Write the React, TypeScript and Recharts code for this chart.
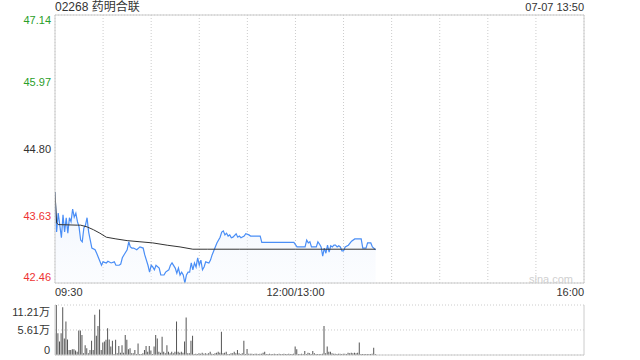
import React from "react";
import {
  ComposedChart,
  BarChart,
  Bar,
  Line,
  Area,
  XAxis,
  YAxis,
  CartesianGrid,
  ReferenceLine,
} from "recharts";

const stockTitle = "02268 药明合联";
const stampText = "07-07 13:50";
const prevClose = 44.8;

const priceTicks = [42.46, 43.63, 44.8, 45.97, 47.14];
const pctTicks = [-5.23, -2.61, 0, 2.61, 5.23];
const timeTicks = [0, 30, 60, 90, 120, 150, 180, 210, 240, 270, 300, 330];
const timeLabels: Record<number, string> = { 0: "09:30", 150: "12:00/13:00", 330: "16:00" };
const volTicks = [0, 5.61, 11.21];

// minute index (0 = 09:30, 150 = 13:00) and last price
const priceMinutes = [
  0, 1, 2, 3, 4, 5, 6, 7, 8, 9, 10, 11, 12, 13, 14, 15, 16, 17, 18, 19, 20, 21, 22, 23, 25, 26, 27, 29, 30,
  32, 33, 35, 37, 38, 40, 41, 42, 43, 45, 46, 47, 48, 49, 51, 53, 55, 56, 58, 59, 60, 61, 62, 63, 65, 66, 68,
  69, 71, 72, 73, 75, 76, 77, 78, 79, 80, 81, 82, 83, 84, 85, 86, 87, 88, 89, 90, 91, 92, 93, 94, 96, 97, 98,
  100, 101, 103, 104, 105, 106, 107, 108, 109, 110, 111, 113, 114, 115, 116, 118, 119, 121, 122, 128, 129,
  149, 151, 156, 157, 158, 159, 160, 163, 164, 165, 166, 167, 168, 169, 170, 171, 172, 173, 174, 175, 176,
  177, 178, 179, 180, 181, 183, 185, 187, 191, 192, 194, 195, 197, 198, 200,
];
const prices = [
  44.05, 43.35, 43.68, 43.47, 43.25, 43.65, 43.35, 43.6, 43.33, 43.6, 43.53, 43.75, 43.61, 43.68, 43.53,
  43.44, 43.21, 43.18, 43.42, 43.47, 43.6, 43.35, 43.21, 43.07, 43.04, 42.98, 42.91, 42.77, 42.83, 42.81,
  42.84, 42.81, 42.83, 42.77, 42.77, 42.79, 42.9, 42.95, 43.04, 43.18, 43.09, 43.07, 43.07, 43.04, 43.09,
  43.07, 42.95, 42.77, 42.65, 42.77, 42.74, 42.69, 42.77, 42.72, 42.6, 42.6, 42.65, 42.69, 42.77, 42.81,
  42.72, 42.63, 42.72, 42.6, 42.65, 42.6, 42.46, 42.6, 42.65, 42.65, 42.81, 42.69, 42.81, 42.74, 42.9,
  42.77, 42.86, 42.69, 42.74, 42.83, 42.81, 42.86, 42.95, 43.09, 43.16, 43.26, 43.35, 43.37, 43.3, 43.33,
  43.28, 43.3, 43.25, 43.26, 43.32, 43.26, 43.28, 43.25, 43.28, 43.32, 43.3, 43.28, 43.28, 43.17, 43.17,
  43.09, 43.09, 43.21, 43.16, 43.18, 43.09, 43.09, 43.18, 43.14, 43.09, 42.93, 43.07, 42.98, 43.12, 43.0,
  43.11, 43.09, 43.12, 43.12, 43.09, 43.11, 43.09, 43.02, 43.02, 43.09, 43.12, 43.19, 43.23, 43.23, 43.07,
  43.07, 43.16, 43.16, 43.09, 43.04,
];

// average price line
const avgMinutes = [0, 1, 2, 14, 16, 20, 24, 28, 32, 38, 45, 53, 61, 70, 78, 86, 95, 115, 150, 180, 200];
const avgPrices = [
  44.05, 43.51, 43.48, 43.47, 43.47, 43.44, 43.39, 43.33, 43.26, 43.23, 43.2, 43.18, 43.16, 43.12, 43.09,
  43.05, 43.05, 43.05, 43.05, 43.05, 43.05,
];

// volume per minute, 万股
const volumes = [
  4.86, 11.21, 4.86, 3.0, 4.86, 10.7, 3.7, 7.5, 3.5, 1.1,
  1.1, 1.3, 1.3, 1.0, 0.75, 5.5, 5.5, 4.5, 0.4, 2.2,
  1.5, 0.4, 1.1, 3.2, 1.1, 9.0, 4.3, 6.5, 10.2, 1.1,
  2.8, 3.0, 3.4, 6.0, 3.5, 1.9, 3.2, 0.2, 3.4, 0.4,
  2.0, 0.5, 2.2, 0.5, 4.5, 3.4, 1.3, 1.5, 0.4, 0.4,
  1.1, 0.2, 2.6, 0.2, 0.2, 0.4, 1.1, 2.0, 0.75, 2.0,
  1.0, 0.2, 1.9, 4.5, 3.7, 0.75, 0.5, 4.1, 0.75, 0.4,
  2.2, 0.75, 0.4, 0.75, 0.4, 0.75, 7.5, 0.75, 0.5, 0.75,
  0.5, 3.0, 8.4, 0.4, 0.4, 3.2, 4.3, 0.2, 0.3, 0.25,
  0.4, 0.3, 0.5, 0.3, 0.4, 0.3, 0.4, 0.75, 0.3, 0.25,
  0.4, 0.5, 0.75, 0.5, 5.2, 0.4, 0.5, 0.75, 0.2, 0.2,
  0.4, 0.4, 0.75, 0.4, 1.1, 0.4, 0.2, 0.4, 3.2, 0.2,
  1.35, 0.3, 0.3, 0.3, 0.25, 0.3, 0.3, 0.25, 0.3, 0.3,
  0.5, 0.75, 0.25, 0.25, 0.3, 0.25, 0.25, 0.3, 0.25, 0.25,
  0.3, 0.25, 0.25, 0.3, 0.25, 0.25, 0.3, 0.25, 0.25, 0.3,
  1.9, 1.3, 0.2, 0.2, 0.3, 0.25, 0.9, 0.2, 0.5, 0.4,
  0.2, 0.9, 0.4, 0.2, 0.2, 0.2, 0.25, 0.3, 6.5, 0.4,
  1.9, 0.75, 0.75, 0.4, 0.3, 0.3, 0.25, 0.3, 0.3, 0.25,
  0.3, 0.3, 0.25, 0.5, 0.4, 0.5, 0.4, 0.5, 0.4, 0.5,
  2.8, 0.2, 0.2, 0.2, 0.2, 0.2, 0.2, 0.2, 0.3, 1.6,
  0.2,
];

const GREEN = "#2a9e2a";
const RED = "#ee3333";
const BORDER = "#cccccc";
const FONT = "'Liberation Sans', Arial, 'Noto Sans CJK SC', sans-serif";

const priceData = priceMinutes.map((t, i) => ({ t, price: prices[i] }));
const avgData = avgMinutes.map((t, i) => ({ t, avg: avgPrices[i] }));
const volData = volumes.map((v, i) => ({ t: i, vol: v }));

const tone = (v: number, mid: number) => (v > mid + 1e-9 ? GREEN : v < mid - 1e-9 ? RED : "#333");

const edgeShift = (v: number, ticks: number[], top: number, bottom: number) =>
  v === ticks[ticks.length - 1] ? top : v === ticks[0] ? bottom : 0;

const PriceTick = (props: any) => {
  const { x, y, payload } = props;
  const v = payload.value as number;
  return (
    <text x={x} y={y + edgeShift(v, priceTicks, 5, -6)} textAnchor="end" dominantBaseline="central"
      fill={tone(v, prevClose)} fontSize={11} fontFamily={FONT}>
      {v.toFixed(2)}
    </text>
  );
};

const PctTick = (props: any) => {
  const { x, y, payload } = props;
  const v = payload.value as number;
  const label = (v > 0 ? "+" : "") + v.toFixed(2) + "%";
  return (
    <text x={x} y={y + edgeShift(v, pctTicks, 5, -6)} textAnchor="start" dominantBaseline="central"
      fill={tone(v, 0)} fontSize={11} fontFamily={FONT}>
      {label}
    </text>
  );
};

const TimeTick = (props: any) => {
  const { x, y, payload } = props;
  const label = timeLabels[payload.value];
  if (!label) return <g />;
  const anchor = payload.value === 0 ? "start" : payload.value === 330 ? "end" : "middle";
  return (
    <text x={x} y={y + 13} textAnchor={anchor} fill="#333" fontSize={11} fontFamily={FONT}>
      {label}
    </text>
  );
};

const VolTick = (props: any) => {
  const { x, y, payload } = props;
  const v = payload.value as number;
  const label = v === 0 ? "0" : v.toFixed(2) + "万";
  return (
    <text x={x} y={y + edgeShift(v, volTicks, 7, -5)} textAnchor="end" dominantBaseline="central"
      fill="#333" fontSize={11} fontFamily={FONT}>
      {label}
    </text>
  );
};

export default function App() {
  return (
    <div style={{ position: "absolute", left: 0, top: 0, width: 640, height: 360, background: "#fff", fontFamily: FONT }}>
      <div style={{ position: "absolute", left: 55, top: 0, fontSize: 12, lineHeight: "15px", color: "#333" }}>
        {stockTitle}
      </div>
      <div style={{ position: "absolute", right: 56, top: 0, fontSize: 11, lineHeight: "15px", color: "#333" }}>
        {stampText}
      </div>

      <div style={{ position: "absolute", left: 0, top: 0 }}>
        <ComposedChart width={640} height={300} data={priceData} margin={{ top: 15, right: 0, bottom: 0, left: 0 }}>
          <defs>
            <linearGradient id="priceFill" x1="0" y1="0" x2="0" y2="1">
              <stop offset="0%" stopColor="#e3ecfc" stopOpacity={0.55} />
              <stop offset="100%" stopColor="#f3f7fe" stopOpacity={0.3} />
            </linearGradient>
          </defs>
          <CartesianGrid stroke={BORDER} strokeDasharray="1 2" />
          <XAxis dataKey="t" type="number" domain={[0, 330]} ticks={timeTicks} interval={0}
            allowDataOverflow axisLine={false} tickLine={false} tickSize={0} tickMargin={0} height={17} tick={<TimeTick />} />
          <YAxis yAxisId="p" domain={[42.46, 47.14]} ticks={priceTicks} interval={0} allowDataOverflow
            width={55} axisLine={false} tickLine={false} tickSize={0} tickMargin={4} tick={<PriceTick />} />
          <YAxis yAxisId="pct" orientation="right" domain={[-5.23, 5.23]} ticks={pctTicks} interval={0}
            width={56} axisLine={false} tickLine={false} tickSize={0} tickMargin={6} tick={<PctTick />} />
          <Area yAxisId="p" dataKey="price" type="linear" stroke="none" fill="url(#priceFill)" fillOpacity={1}
            isAnimationActive={false} />
          <Line yAxisId="p" dataKey="price" type="linear" stroke="#4a8ef6" strokeWidth={1.2} dot={false}
            isAnimationActive={false} />
          <Line yAxisId="p" data={avgData} dataKey="avg" type="linear" stroke="#333" strokeWidth={1} dot={false}
            isAnimationActive={false} />
          <ReferenceLine yAxisId="p" y={47.14} stroke={BORDER} />
          <ReferenceLine yAxisId="p" y={42.46} stroke={BORDER} />
          <ReferenceLine yAxisId="p" x={0} stroke={BORDER} />
          <ReferenceLine yAxisId="p" x={330} stroke={BORDER} />
        </ComposedChart>
      </div>

      <div style={{ position: "absolute", right: 67, top: 272, fontSize: 11, lineHeight: "14px", color: "#d0d0d0" }}>
        sina.com
      </div>

      <div style={{ position: "absolute", left: 0, top: 300 }}>
        <BarChart width={640} height={58} data={volData} margin={{ top: 5, right: 56, bottom: 3, left: 0 }}>
          <CartesianGrid stroke={BORDER} strokeDasharray="1 2" vertical={false} />
          <XAxis dataKey="t" type="number" domain={[0, 330]} hide allowDataOverflow />
          <YAxis domain={[0, 11.21]} ticks={volTicks} interval={0} allowDataOverflow width={55}
            axisLine={false} tickLine={false} tickSize={0} tickMargin={5} tick={<VolTick />} />
          <Bar dataKey="vol" fill="#555" barSize={1} isAnimationActive={false} />
          <ReferenceLine y={0} stroke={BORDER} />
          <ReferenceLine x={0} stroke={BORDER} />
          <ReferenceLine x={330} stroke={BORDER} />
        </BarChart>
      </div>
    </div>
  );
}
